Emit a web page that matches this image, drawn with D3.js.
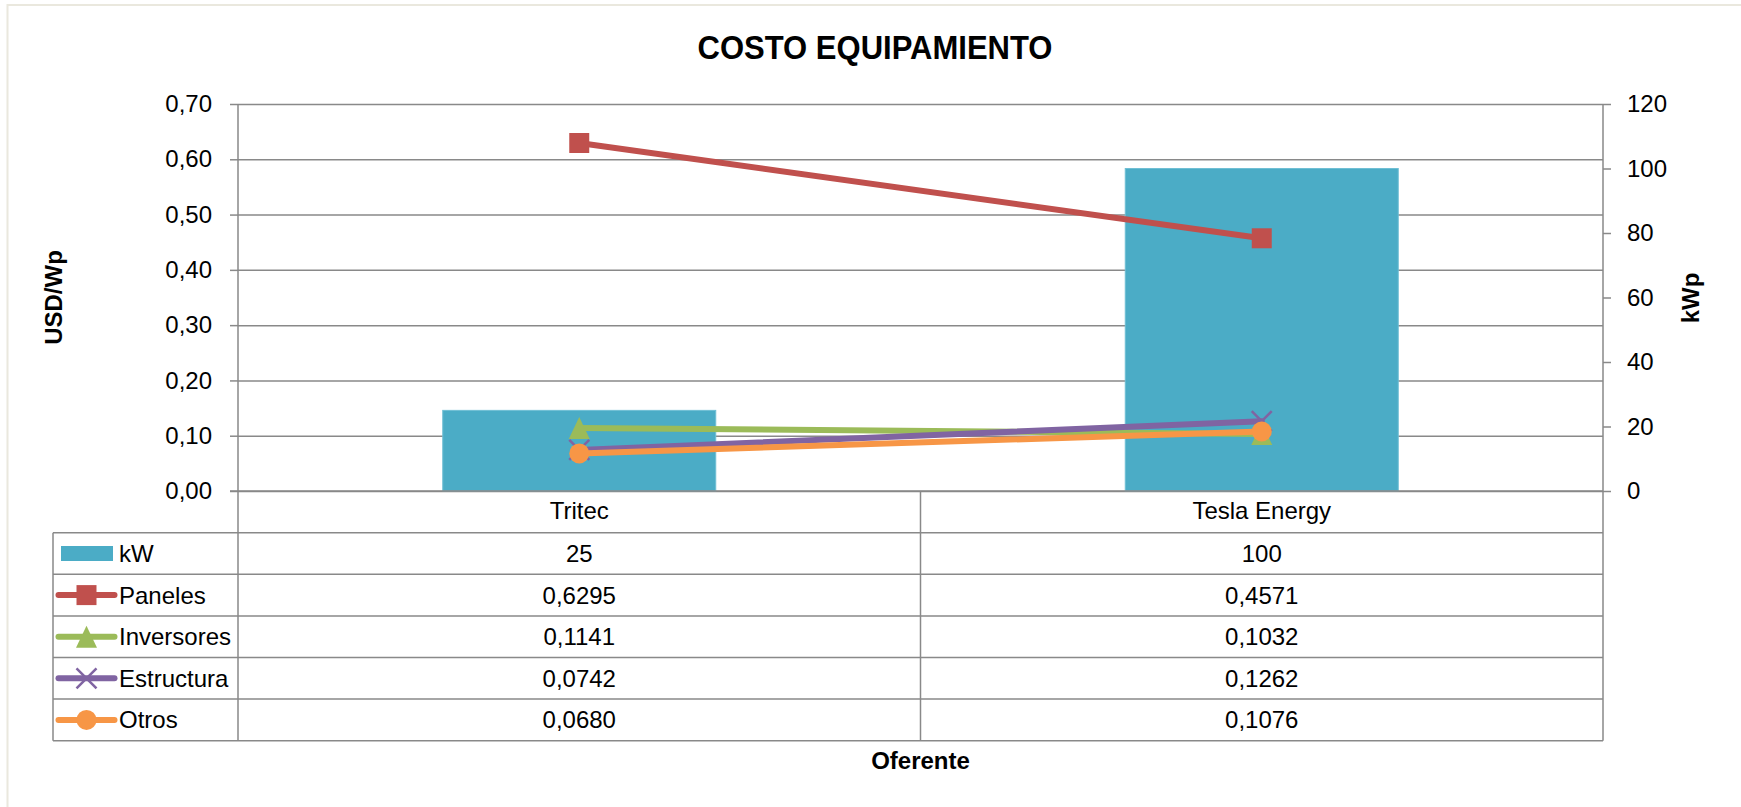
<!DOCTYPE html>
<html>
<head>
<meta charset="utf-8">
<script src="https://cdn.jsdelivr.net/npm/d3@7"></script>
<style>
	body { margin: 0; background: #fff; overflow: hidden; }
	text { font-family: 'Liberation Sans', Arial, sans-serif; fill: #000; }
	.tick text { font-size: 24px; }
	.bold { font-weight: bold; }
</style>
</head>
<body>
<svg id="svgChart" width="1741" height="807"></svg>
<script>
// data
const categories = ['Tritec', 'Tesla Energy'];
const kW = [25, 100];
const paneles = [0.6295, 0.4571];
const inversores = [0.1141, 0.1032];
const estructura = [0.0742, 0.1262];
const otros = [0.0680, 0.1076];
const usdTicks = [0, 0.1, 0.2, 0.3, 0.4, 0.5, 0.6, 0.7];
const kwTicks = [0, 20, 40, 60, 80, 100, 120];

const series = [
	{name: 'Paneles', values: paneles, color: '#C0504D', marker: 'square'},
	{name: 'Inversores', values: inversores, color: '#9BBB59', marker: 'triangle'},
	{name: 'Estructura', values: estructura, color: '#8064A2', marker: 'x'},
	{name: 'Otros', values: otros, color: '#F79646', marker: 'circle'}
];
const barColor = '#4BACC6';
const gridColor = '#898989';

const svg = d3.select('#svgChart');

const plot = {left: 238, right: 1603, top: 104, bottom: 491};
const table = {left: 53, top: 532.7, bottom: 740.7};

const locale = d3.formatLocale({decimal: ',', thousands: '.', grouping: [3], currency: ['', '']});
const fmt2 = locale.format('.2f');
const fmt4 = locale.format('.4f');

const xScale = d3.scaleBand()
	.domain(categories)
	.range([plot.left, plot.right]);

const yLeft = d3.scaleLinear()
	.domain([0, 0.7])
	.range([plot.bottom, plot.top]);

const yRight = d3.scaleLinear()
	.domain([0, 120])
	.range([plot.bottom, plot.top]);

const cx = d => xScale(d) + xScale.bandwidth() / 2;

//outer frame (only top and left edges are inside the picture)
svg.append('path')
	.attr('d', 'M7.5,807 V5 H1741')
	.attr('fill', 'none')
	.attr('stroke', '#EAE8DE')
	.attr('stroke-width', 2);

//title
svg.append('text')
	.attr('class', 'bold')
	.attr('x', 875)
	.attr('y', 59.3)
	.attr('text-anchor', 'middle')
	.attr('font-size', 34)
	.attr('textLength', 355)
	.attr('lengthAdjust', 'spacingAndGlyphs')
	.text('COSTO EQUIPAMIENTO');

//gridlines
const gridG = svg.append('g')
	.attr('transform', `translate(${plot.left},0)`)
	.call(d3.axisLeft(yLeft).tickValues(usdTicks).tickSize(-(plot.right - plot.left)).tickFormat(''));
gridG.selectAll('.domain').remove();
gridG.selectAll('.tick line').attr('stroke', gridColor).attr('stroke-width', 1.5);

//bars on the right axis
svg.append('g').selectAll('rect').data(categories)
	.enter().append('rect')
		.attr('x', d => cx(d) - xScale.bandwidth() * 0.2)
		.attr('width', xScale.bandwidth() * 0.4)
		.attr('y', (d, i) => yRight(kW[i]))
		.attr('height', (d, i) => yRight(0) - yRight(kW[i]))
		.attr('fill', barColor)
		.attr('stroke', '#6FBFD4')
		.attr('stroke-width', 1);

//axes
const leftAxisG = svg.append('g')
	.attr('transform', `translate(${plot.left},0)`)
	.call(d3.axisLeft(yLeft).tickValues(usdTicks).tickSize(8).tickPadding(18).tickFormat(fmt2));
leftAxisG.selectAll('.domain').remove();
leftAxisG.selectAll('.tick line').attr('stroke', gridColor).attr('stroke-width', 1.5);

const rightAxisG = svg.append('g')
	.attr('transform', `translate(${plot.right},0)`)
	.call(d3.axisRight(yRight).tickValues(kwTicks).tickSize(8).tickPadding(16));
rightAxisG.selectAll('.domain').remove();
rightAxisG.selectAll('.tick line').attr('stroke', gridColor).attr('stroke-width', 1.5);

svg.selectAll('.tick text').attr('fill', '#000').attr('font-family', null).attr('font-size', null);

//marker shapes
const markerPath = (type, s) => {
	const h = s / 2;
	if (type === 'square') return `M${-h},${-h}H${h}V${h}H${-h}Z`;
	if (type === 'triangle') return `M0,${-h - 1}L${h + 0.5},${h + 1}L${-h - 0.5},${h + 1}Z`;
	if (type === 'x') return `M${-h},${-h}L${h},${h}M${h},${-h}L${-h},${h}`;
	return d3.symbol(d3.symbolCircle, Math.PI * h * h)();
};

const drawMarker = (g, type, color) => {
	g.append('path')
		.attr('d', markerPath(type, 20))
		.attr('fill', type === 'x' ? 'none' : color)
		.attr('stroke', color)
		.attr('stroke-width', type === 'x' ? 2.5 : 0);
};

//lines with markers
const line = d3.line()
	.x(d => cx(d.cat))
	.y(d => yLeft(d.v));

series.forEach(s => {
	const pts = categories.map((c, i) => ({cat: c, v: s.values[i]}));
	const g = svg.append('g').attr('class', 'series');
	g.append('path')
		.datum(pts)
		.attr('d', line)
		.attr('fill', 'none')
		.attr('stroke', s.color)
		.attr('stroke-width', 6)
		.attr('stroke-linecap', 'round');
	pts.forEach(p => {
		g.append('g')
			.attr('transform', `translate(${cx(p.cat)},${yLeft(p.v)})`)
			.call(drawMarker, s.marker, s.color);
	});
});

//category labels
svg.append('g').selectAll('text').data(categories)
	.enter().append('text')
		.attr('x', d => cx(d))
		.attr('y', 519.3)
		.attr('text-anchor', 'middle')
		.attr('font-size', 24)
		.text(d => d);

//data table
const rows = [{name: 'kW', values: kW.map(String), bar: true}]
	.concat(series.map(s => ({name: s.name, values: s.values.map(fmt4), color: s.color, marker: s.marker})));

const rowScale = d3.scaleBand()
	.domain(rows.map(r => r.name))
	.range([table.top, table.bottom]);

const tableG = svg.append('g')
	.attr('stroke', gridColor)
	.attr('stroke-width', 1.5);

//horizontal rules
tableG.selectAll('.hline').data(rowScale.domain().map(rowScale).concat([table.bottom]))
	.enter().append('line')
		.attr('x1', table.left)
		.attr('x2', plot.right)
		.attr('y1', d => d)
		.attr('y2', d => d);

//vertical rules
const vlines = [
	[table.left, table.top],
	[plot.left, plot.top],
	[xScale(categories[1]), plot.bottom],
	[plot.right, plot.top]
];
tableG.selectAll('.vline').data(vlines)
	.enter().append('line')
		.attr('x1', d => d[0])
		.attr('x2', d => d[0])
		.attr('y1', d => d[1])
		.attr('y2', table.bottom);

//bottom axis line
tableG.append('line')
	.attr('x1', plot.left - 8)
	.attr('x2', plot.right)
	.attr('y1', plot.bottom)
	.attr('y2', plot.bottom);

const rowG = svg.append('g').selectAll('g').data(rows)
	.enter().append('g')
		.attr('transform', d => `translate(0,${rowScale(d.name) + rowScale.bandwidth() / 2})`);

//legend keys
rowG.each(function(d) {
	const g = d3.select(this);
	if (d.bar) {
		g.append('rect')
			.attr('x', 61)
			.attr('y', -7.5)
			.attr('width', 52)
			.attr('height', 15)
			.attr('fill', barColor);
	} else {
		g.append('line')
			.attr('x1', 58.5)
			.attr('x2', 114.5)
			.attr('stroke', d.color)
			.attr('stroke-width', 6)
			.attr('stroke-linecap', 'round');
		g.append('g')
			.attr('transform', 'translate(86.5,0)')
			.call(drawMarker, d.marker, d.color);
	}
});

rowG.append('text')
	.attr('x', 119)
	.attr('dy', '0.35em')
	.attr('font-size', 24)
	.text(d => d.name);

rowG.selectAll('.val').data(d => d.values)
	.enter().append('text')
		.attr('x', (d, i) => cx(categories[i]))
		.attr('dy', '0.35em')
		.attr('text-anchor', 'middle')
		.attr('font-size', 24)
		.text(d => d);

//axis titles
svg.append('text')
	.attr('class', 'bold')
	.attr('transform', 'translate(62,297.5) rotate(-90)')
	.attr('text-anchor', 'middle')
	.attr('font-size', 24)
	.text('USD/Wp');

svg.append('text')
	.attr('class', 'bold')
	.attr('transform', 'translate(1699,298) rotate(-90)')
	.attr('text-anchor', 'middle')
	.attr('font-size', 24)
	.text('kWp');

svg.append('text')
	.attr('class', 'bold')
	.attr('x', xScale(categories[1]))
	.attr('y', 769.3)
	.attr('text-anchor', 'middle')
	.attr('font-size', 24)
	.text('Oferente');
</script>
</body>
</html>
